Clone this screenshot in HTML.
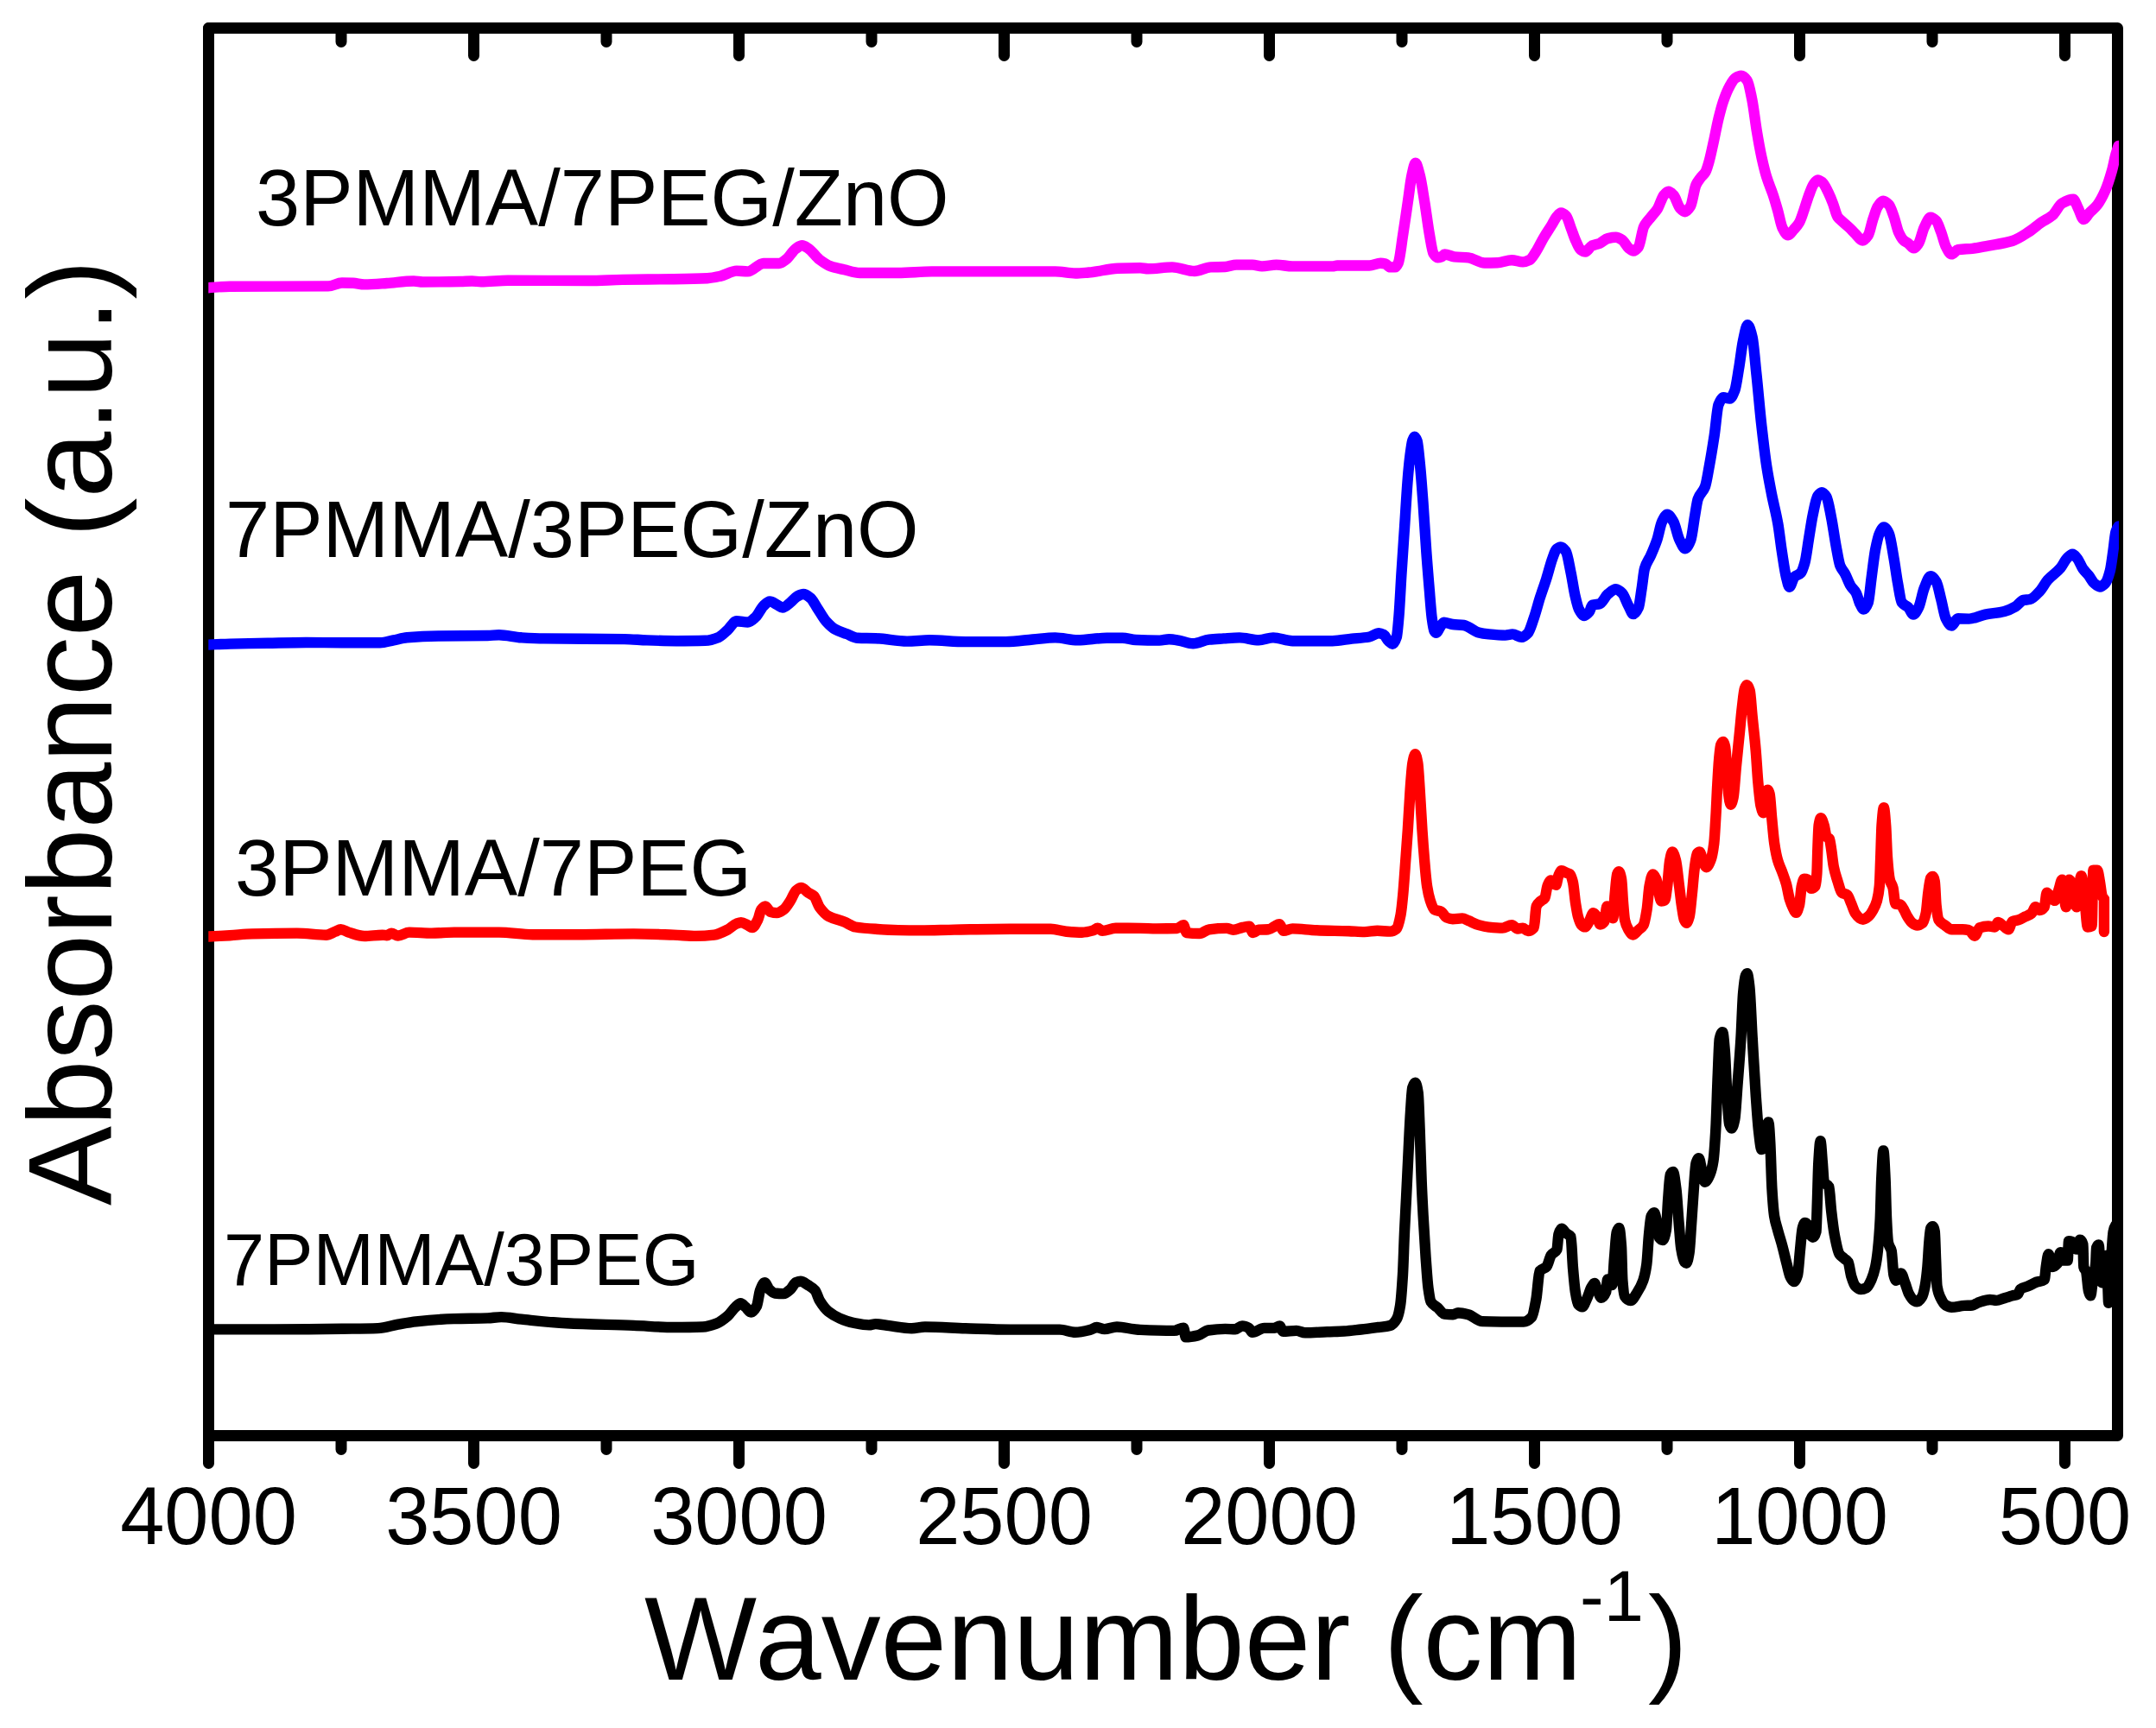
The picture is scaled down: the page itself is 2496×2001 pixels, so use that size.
<!DOCTYPE html>
<html><head><meta charset="utf-8"><title>FTIR spectra</title>
<style>
html,body{margin:0;padding:0;background:#fff}
body{width:2496px;height:2001px;overflow:hidden}
svg{display:block}
text{font-family:"Liberation Sans",Arial,Helvetica,sans-serif;fill:#000}
.c{fill:none;stroke-width:12.4;stroke-linejoin:round;stroke-linecap:round}
</style></head><body>
<svg width="2496" height="2001" viewBox="0 0 2496 2001">
<rect width="2496" height="2001" fill="#fff"/>
<defs><clipPath id="cp"><rect x="241.3" y="0" width="2211.7" height="2001"/></clipPath></defs>
<rect x="241.5" y="32.5" width="2210" height="1630" fill="none" stroke="#000" stroke-width="13" stroke-linejoin="round"/>
<path d="M241.5 32.5v32M241.5 1662.5v32M395.0 32.5v16M395.0 1662.5v16M548.5 32.5v32M548.5 1662.5v32M702.0 32.5v16M702.0 1662.5v16M855.5 32.5v32M855.5 1662.5v32M1009.0 32.5v16M1009.0 1662.5v16M1162.5 32.5v32M1162.5 1662.5v32M1316.0 32.5v16M1316.0 1662.5v16M1469.5 32.5v32M1469.5 1662.5v32M1623.0 32.5v16M1623.0 1662.5v16M1776.5 32.5v32M1776.5 1662.5v32M1930.0 32.5v16M1930.0 1662.5v16M2083.5 32.5v32M2083.5 1662.5v32M2237.0 32.5v16M2237.0 1662.5v16M2390.5 32.5v32M2390.5 1662.5v32" stroke="#000" stroke-width="13" stroke-linecap="round" fill="none"/>
<text transform="translate(241.5,1788) scale(1,1.035)" font-size="92" text-anchor="middle">4000</text>
<text transform="translate(548.5,1788) scale(1,1.035)" font-size="92" text-anchor="middle">3500</text>
<text transform="translate(855.5,1788) scale(1,1.035)" font-size="92" text-anchor="middle">3000</text>
<text transform="translate(1162.5,1788) scale(1,1.035)" font-size="92" text-anchor="middle">2500</text>
<text transform="translate(1469.5,1788) scale(1,1.035)" font-size="92" text-anchor="middle">2000</text>
<text transform="translate(1776.5,1788) scale(1,1.035)" font-size="92" text-anchor="middle">1500</text>
<text transform="translate(2083.5,1788) scale(1,1.035)" font-size="92" text-anchor="middle">1000</text>
<text transform="translate(2390.5,1788) scale(1,1.035)" font-size="92" text-anchor="middle">500</text>
<g clip-path="url(#cp)">
<path class="c" stroke="#000" d="M241.3 1539.4C266.9 1539.4 292.4 1539.4 318.0 1539.4C343.9 1539.4 369.9 1539.1 395.8 1538.8C409.7 1538.6 423.5 1538.6 437.4 1538.1C445.2 1537.8 453.0 1535.0 460.8 1533.6C467.7 1532.4 474.7 1531.0 481.6 1530.3C496.3 1528.8 511.0 1527.5 525.7 1527.1C538.7 1526.7 551.7 1526.8 564.7 1526.4C569.9 1526.2 575.1 1525.1 580.3 1525.1C588.1 1525.1 595.8 1526.9 603.6 1527.7C620.9 1529.4 638.3 1531.4 655.6 1532.3C681.6 1533.6 707.5 1533.9 733.5 1534.9C749.0 1535.5 764.5 1537.0 780.0 1537.0C791.3 1537.0 802.5 1536.9 813.8 1536.5C819.0 1536.3 824.2 1534.5 829.4 1532.6C833.7 1531.0 838.0 1527.7 842.3 1524.0C845.3 1521.4 848.4 1516.3 851.4 1513.6C853.4 1511.8 855.4 1509.2 857.4 1509.2C859.3 1509.2 861.2 1512.0 863.1 1513.6C865.3 1515.4 867.4 1519.6 869.6 1519.6C871.8 1519.6 873.9 1516.4 876.1 1512.3C877.4 1509.8 878.7 1497.6 880.0 1494.2C881.7 1489.7 883.5 1485.1 885.2 1485.1C886.9 1485.1 888.7 1491.2 890.4 1492.9C892.6 1495.0 894.7 1497.3 896.9 1497.5C900.4 1497.9 903.8 1498.1 907.3 1498.1C909.9 1498.1 912.5 1495.1 915.1 1492.9C917.3 1491.0 919.4 1486.0 921.6 1485.1C923.3 1484.4 925.1 1483.8 926.8 1483.8C929.8 1483.8 932.8 1486.6 935.8 1488.4C938.4 1490.0 941.0 1491.2 943.6 1494.2C945.3 1496.2 947.1 1502.9 948.8 1505.8C952.3 1511.5 955.7 1516.0 959.2 1518.8C963.5 1522.4 967.9 1524.7 972.2 1526.6C977.4 1528.8 982.6 1530.7 987.8 1531.8C993.9 1533.0 999.9 1534.4 1006.0 1534.4C1008.6 1534.4 1011.2 1533.1 1013.8 1533.1C1019.0 1533.1 1024.2 1534.5 1029.4 1535.2C1038.0 1536.3 1046.7 1538.3 1055.3 1538.3C1060.5 1538.3 1065.7 1536.5 1070.9 1536.5C1086.5 1536.5 1102.1 1537.8 1117.7 1538.3C1135.0 1538.8 1152.3 1539.6 1169.6 1539.6C1188.7 1539.6 1207.7 1539.6 1226.8 1539.6C1232.8 1539.6 1238.9 1542.7 1244.9 1542.7C1251.0 1542.7 1257.0 1541.1 1263.1 1539.6C1265.3 1539.0 1267.4 1537.0 1269.6 1537.0C1272.6 1537.0 1275.7 1539.1 1278.7 1539.1C1283.5 1539.1 1288.2 1536.5 1293.0 1536.5C1299.5 1536.5 1306.0 1538.3 1312.5 1539.1C1315.0 1539.4 1317.5 1539.8 1320.0 1539.9C1333.1 1540.5 1346.3 1540.9 1359.4 1540.9C1363.0 1540.9 1366.6 1537.6 1370.2 1537.6C1371.0 1537.6 1371.9 1548.4 1372.7 1548.4C1377.4 1548.4 1382.2 1547.5 1386.9 1546.4C1390.8 1545.5 1394.8 1541.1 1398.7 1540.5C1405.3 1539.5 1411.8 1538.9 1418.4 1538.9C1422.3 1538.9 1426.3 1539.3 1430.2 1539.3C1432.8 1539.3 1435.5 1535.4 1438.1 1535.4C1440.7 1535.4 1443.3 1536.5 1445.9 1537.9C1447.2 1538.6 1448.6 1542.9 1449.9 1542.9C1454.5 1542.9 1459.0 1537.9 1463.6 1537.9C1467.5 1537.9 1471.5 1537.9 1475.4 1537.9C1477.5 1537.9 1479.6 1535.4 1481.7 1535.4C1482.9 1535.4 1484.1 1541.9 1485.3 1541.9C1490.5 1541.9 1495.8 1540.9 1501.0 1540.9C1504.3 1540.9 1507.6 1543.3 1510.9 1543.3C1519.4 1543.3 1528.0 1542.6 1536.5 1542.3C1543.0 1542.0 1549.6 1541.9 1556.1 1541.5C1562.7 1541.1 1569.2 1540.2 1575.8 1539.5C1582.4 1538.8 1588.9 1537.9 1595.5 1537.0C1600.1 1536.4 1604.7 1536.3 1609.3 1535.0C1611.9 1534.3 1614.5 1531.6 1617.1 1527.1C1618.4 1524.8 1619.8 1519.5 1621.1 1511.4C1622.1 1505.5 1623.0 1492.1 1624.0 1476.0C1624.7 1464.9 1625.3 1441.4 1626.0 1426.8C1626.7 1412.2 1627.3 1400.9 1628.0 1387.4C1628.6 1374.6 1629.3 1360.9 1629.9 1348.1C1630.9 1327.9 1631.9 1304.4 1632.9 1289.0C1633.7 1277.2 1634.4 1262.1 1635.2 1259.5C1636.3 1255.9 1637.3 1253.6 1638.4 1253.6C1639.5 1253.6 1640.6 1258.2 1641.7 1265.4C1642.4 1269.7 1643.0 1292.1 1643.7 1308.7C1644.4 1325.3 1645.0 1351.5 1645.7 1367.7C1646.3 1383.1 1647.0 1395.4 1647.6 1407.1C1648.6 1425.6 1649.6 1442.3 1650.6 1456.3C1651.6 1469.8 1652.5 1484.6 1653.5 1491.7C1654.5 1499.0 1655.5 1505.7 1656.5 1507.4C1659.1 1511.8 1661.8 1511.9 1664.4 1514.3C1667.0 1516.6 1669.6 1521.3 1672.2 1521.6C1675.5 1522.0 1678.8 1522.2 1682.1 1522.2C1684.1 1522.2 1686.0 1520.2 1688.0 1520.2C1691.9 1520.2 1695.9 1521.2 1699.8 1522.2C1705.2 1523.5 1710.6 1530.0 1716.0 1530.1C1732.0 1530.5 1747.9 1530.6 1763.9 1530.6C1767.0 1530.6 1770.1 1528.6 1773.2 1525.3C1775.0 1523.4 1776.7 1513.6 1778.5 1504.0C1779.8 1496.8 1781.2 1473.8 1782.5 1472.0C1785.2 1468.4 1787.8 1469.6 1790.5 1466.7C1792.3 1464.8 1794.0 1455.9 1795.8 1453.4C1798.0 1450.2 1800.3 1451.5 1802.5 1446.8C1803.1 1445.5 1803.8 1431.6 1804.4 1429.4C1805.5 1425.5 1806.7 1422.8 1807.8 1422.8C1809.6 1422.8 1811.3 1426.6 1813.1 1428.1C1814.9 1429.6 1816.7 1429.3 1818.5 1432.1C1819.4 1433.5 1820.2 1459.3 1821.1 1469.4C1822.0 1479.9 1822.9 1490.5 1823.8 1496.0C1824.9 1502.9 1826.1 1509.4 1827.2 1510.6C1828.7 1512.2 1830.3 1513.3 1831.8 1513.3C1833.6 1513.3 1835.3 1507.6 1837.1 1504.0C1838.9 1500.4 1840.6 1493.8 1842.4 1490.7C1843.6 1488.7 1844.7 1485.9 1845.9 1485.9C1847.0 1485.9 1848.0 1491.0 1849.1 1493.3C1850.7 1496.7 1852.3 1502.7 1853.9 1502.7C1855.7 1502.7 1857.4 1500.3 1859.2 1496.0C1859.8 1494.4 1860.5 1481.4 1861.1 1481.4C1862.9 1481.4 1864.6 1488.0 1866.4 1488.0C1867.3 1488.0 1868.1 1466.1 1869.0 1456.1C1869.9 1445.7 1870.8 1429.5 1871.7 1426.8C1872.6 1424.1 1873.5 1422.0 1874.4 1422.0C1875.3 1422.0 1876.1 1431.3 1877.0 1442.8C1877.5 1449.0 1877.9 1477.0 1878.4 1482.7C1879.3 1493.2 1880.1 1500.0 1881.0 1501.3C1883.2 1504.6 1885.5 1506.1 1887.7 1506.1C1890.4 1506.1 1893.0 1500.2 1895.7 1496.0C1897.9 1492.6 1900.1 1489.1 1902.3 1482.7C1903.6 1478.8 1905.0 1473.5 1906.3 1464.1C1907.2 1457.8 1908.1 1438.4 1909.0 1429.4C1909.9 1420.8 1910.7 1410.0 1911.6 1408.2C1912.8 1405.8 1913.9 1404.2 1915.1 1404.2C1916.2 1404.2 1917.2 1411.0 1918.3 1416.1C1919.2 1420.4 1920.1 1432.2 1921.0 1433.4C1922.3 1435.1 1923.6 1436.1 1924.9 1436.1C1926.2 1436.1 1927.6 1431.3 1928.9 1424.1C1929.6 1420.1 1930.4 1399.2 1931.1 1389.5C1932.0 1378.1 1932.8 1361.8 1933.7 1360.2C1934.8 1358.2 1935.8 1357.0 1936.9 1357.0C1938.1 1357.0 1939.2 1367.3 1940.4 1376.2C1941.5 1384.4 1942.5 1403.5 1943.6 1416.1C1944.5 1426.3 1945.3 1440.1 1946.2 1445.4C1947.5 1453.5 1948.9 1460.1 1950.2 1461.4C1950.9 1462.1 1951.7 1462.7 1952.4 1462.7C1953.5 1462.7 1954.5 1457.1 1955.6 1450.7C1956.5 1445.5 1957.3 1428.2 1958.2 1416.1C1959.1 1403.5 1960.0 1387.7 1960.9 1376.2C1961.8 1365.1 1962.6 1349.7 1963.5 1346.9C1964.6 1343.5 1965.6 1341.1 1966.7 1341.1C1967.9 1341.1 1969.0 1350.3 1970.2 1354.9C1971.4 1359.5 1972.5 1368.8 1973.7 1368.8C1975.6 1368.8 1977.6 1364.5 1979.5 1360.2C1980.8 1357.2 1982.2 1352.7 1983.5 1344.3C1984.4 1338.6 1985.3 1325.1 1986.2 1309.7C1987.1 1294.9 1987.9 1263.0 1988.8 1243.1C1989.4 1228.6 1990.1 1206.0 1990.7 1203.2C1991.9 1198.0 1993.0 1195.2 1994.2 1195.2C1995.1 1195.2 1995.9 1206.5 1996.8 1216.5C1997.7 1226.9 1998.6 1256.1 1999.5 1269.7C2000.4 1282.8 2001.2 1299.0 2002.1 1301.7C2003.0 1304.5 2003.9 1306.5 2004.8 1306.5C2006.0 1306.5 2007.1 1301.9 2008.3 1296.3C2009.4 1291.2 2010.4 1270.3 2011.5 1256.4C2012.8 1239.5 2014.1 1224.4 2015.4 1203.2C2016.3 1188.5 2017.2 1159.6 2018.1 1149.9C2019.0 1140.2 2019.9 1132.1 2020.8 1130.0C2021.4 1128.6 2022.0 1127.3 2022.6 1127.3C2023.5 1127.3 2024.4 1134.6 2025.3 1141.9C2026.5 1151.3 2027.6 1183.3 2028.8 1203.2C2030.1 1226.0 2031.5 1250.8 2032.8 1269.7C2033.9 1284.8 2034.9 1300.8 2036.0 1309.7C2037.1 1319.2 2038.3 1331.0 2039.4 1331.0C2040.6 1331.0 2041.7 1330.1 2042.9 1328.3C2043.7 1327.1 2044.5 1307.2 2045.3 1304.3C2046.0 1301.7 2046.7 1299.5 2047.4 1299.5C2048.0 1299.5 2048.7 1312.5 2049.3 1323.0C2050.0 1334.6 2050.7 1364.7 2051.4 1376.2C2052.3 1391.0 2053.2 1402.6 2054.1 1408.2C2055.4 1416.3 2056.7 1419.2 2058.0 1424.1C2059.8 1430.9 2061.6 1436.1 2063.4 1442.8C2065.2 1449.4 2066.9 1457.4 2068.7 1464.1C2070.0 1469.2 2071.4 1476.2 2072.7 1478.7C2074.1 1481.3 2075.5 1484.0 2076.9 1484.0C2078.3 1484.0 2079.7 1480.8 2081.1 1476.3C2082.0 1473.3 2083.0 1457.4 2083.9 1448.4C2084.8 1439.4 2085.8 1425.8 2086.7 1422.4C2087.6 1419.0 2088.6 1416.0 2089.5 1416.0C2090.7 1416.0 2092.0 1417.1 2093.2 1418.7C2094.1 1419.9 2095.1 1428.4 2096.0 1429.9C2096.9 1431.4 2097.9 1432.7 2098.8 1432.7C2100.0 1432.7 2101.3 1430.9 2102.5 1426.2C2102.9 1424.5 2103.4 1404.9 2103.8 1392.8C2104.3 1378.8 2104.8 1355.0 2105.3 1346.4C2106.0 1333.8 2106.8 1321.3 2107.5 1321.3C2108.3 1321.3 2109.1 1337.3 2109.9 1346.4C2110.5 1353.2 2111.1 1367.3 2111.7 1368.6C2113.6 1372.6 2115.4 1370.5 2117.3 1374.2C2118.2 1376.1 2119.2 1393.9 2120.1 1402.0C2121.3 1412.6 2122.6 1423.4 2123.8 1429.9C2125.7 1439.8 2127.5 1449.3 2129.4 1452.1C2131.2 1454.9 2133.1 1455.6 2134.9 1457.3C2136.5 1458.7 2138.0 1459.0 2139.6 1461.4C2140.8 1463.3 2142.1 1474.2 2143.3 1478.1C2144.8 1483.0 2146.4 1487.7 2147.9 1489.2C2150.1 1491.3 2152.2 1493.0 2154.4 1493.0C2156.6 1493.0 2158.7 1492.2 2160.9 1491.1C2162.8 1490.2 2164.6 1485.9 2166.5 1481.8C2168.0 1478.4 2169.6 1473.8 2171.1 1467.0C2172.0 1462.8 2173.0 1456.7 2173.9 1448.4C2174.8 1440.1 2175.8 1429.3 2176.7 1411.3C2177.2 1401.6 2177.7 1375.1 2178.2 1364.9C2178.9 1349.9 2179.7 1332.5 2180.4 1332.5C2181.1 1332.5 2181.9 1349.9 2182.6 1364.9C2183.1 1375.1 2183.6 1401.2 2184.1 1411.3C2184.7 1424.1 2185.4 1436.2 2186.0 1439.1C2187.2 1444.8 2188.5 1443.2 2189.7 1448.4C2190.6 1452.2 2191.5 1472.9 2192.4 1476.3C2193.3 1479.8 2194.3 1482.7 2195.2 1482.7C2197.1 1482.7 2198.9 1474.4 2200.8 1474.4C2202.3 1474.4 2203.9 1481.5 2205.4 1485.5C2207.0 1489.5 2208.5 1495.6 2210.1 1498.5C2211.9 1501.8 2213.8 1504.8 2215.6 1505.9C2216.9 1506.6 2218.1 1507.4 2219.4 1507.4C2221.2 1507.4 2223.1 1505.0 2224.9 1502.2C2226.1 1500.3 2227.4 1495.3 2228.6 1489.2C2229.5 1484.6 2230.5 1476.8 2231.4 1467.0C2232.0 1460.4 2232.7 1446.3 2233.3 1439.1C2233.9 1432.3 2234.5 1423.4 2235.1 1422.4C2235.9 1421.0 2236.7 1420.2 2237.5 1420.2C2238.3 1420.2 2239.0 1422.3 2239.8 1426.2C2240.2 1428.4 2240.7 1447.6 2241.1 1457.7C2241.6 1468.6 2242.0 1486.1 2242.5 1489.2C2243.8 1497.7 2245.0 1499.5 2246.3 1502.2C2248.4 1506.7 2250.6 1510.3 2252.7 1511.5C2254.9 1512.7 2257.0 1513.7 2259.2 1513.7C2264.2 1513.7 2269.1 1512.2 2274.1 1511.9C2277.2 1511.7 2280.3 1511.8 2283.4 1511.5C2285.9 1511.3 2288.3 1509.0 2290.8 1508.2C2295.1 1506.8 2299.5 1505.0 2303.8 1505.0C2306.3 1505.0 2308.7 1505.9 2311.2 1505.9C2314.3 1505.9 2317.4 1504.1 2320.5 1503.2C2323.6 1502.3 2326.6 1501.3 2329.7 1500.4C2331.9 1499.8 2334.0 1499.7 2336.2 1498.5C2337.1 1498.0 2338.1 1493.6 2339.0 1492.9C2342.1 1490.6 2345.2 1490.6 2348.3 1489.2C2351.4 1487.8 2354.5 1485.8 2357.6 1484.6C2360.7 1483.4 2363.7 1484.1 2366.8 1481.8C2367.4 1481.3 2368.1 1471.1 2368.7 1467.0C2369.6 1461.0 2370.6 1452.1 2371.5 1452.1C2373.0 1452.1 2374.6 1467.0 2376.1 1467.0C2378.0 1467.0 2379.8 1465.5 2381.7 1463.3C2382.9 1461.9 2384.2 1450.3 2385.4 1450.3C2386.6 1450.3 2387.9 1459.6 2389.1 1459.6C2390.6 1459.6 2392.2 1459.6 2393.7 1459.6C2394.1 1459.6 2394.6 1437.3 2395.0 1437.3C2396.4 1437.3 2397.9 1437.7 2399.3 1438.2C2400.8 1438.8 2402.4 1446.6 2403.9 1446.6C2405.3 1446.6 2406.6 1435.8 2408.0 1435.8C2409.1 1435.8 2410.3 1437.0 2411.4 1441.0C2411.7 1442.1 2412.0 1465.7 2412.3 1467.0C2413.2 1471.0 2414.2 1469.6 2415.1 1472.5C2416.0 1475.4 2417.0 1491.5 2417.9 1494.8C2418.7 1497.6 2419.5 1500.4 2420.3 1500.4C2421.0 1500.4 2421.8 1490.2 2422.5 1485.5C2423.7 1477.6 2425.0 1476.2 2426.2 1463.3C2426.5 1460.2 2426.8 1445.6 2427.1 1444.7C2427.9 1442.3 2428.8 1441.4 2429.6 1441.4C2430.0 1441.4 2430.5 1449.9 2430.9 1457.7C2431.2 1463.1 2431.5 1483.3 2431.8 1483.7C2432.9 1485.1 2434.0 1485.5 2435.1 1485.5C2435.5 1485.5 2436.0 1459.3 2436.4 1457.7C2437.0 1455.3 2437.7 1454.0 2438.3 1454.0C2438.9 1454.0 2439.5 1473.4 2440.1 1485.5C2440.4 1492.2 2440.8 1508.7 2441.1 1508.7C2441.7 1508.7 2442.3 1494.8 2442.9 1485.5C2443.5 1475.7 2444.2 1458.0 2444.8 1448.4C2445.4 1439.3 2446.0 1429.0 2446.6 1426.2C2447.5 1421.9 2448.5 1420.1 2449.4 1418.7C2450.6 1416.9 2451.8 1416.2 2453.0 1415.0"/>
<path class="c" stroke="#f00" d="M241.3 1084.5C249.5 1084.1 257.8 1083.7 266.0 1083.2C274.7 1082.7 283.3 1081.6 292.0 1081.4C309.3 1080.9 326.6 1080.6 343.9 1080.6C355.2 1080.6 366.4 1082.7 377.7 1082.7C381.1 1082.7 384.6 1080.1 388.0 1078.8C390.2 1078.0 392.3 1076.2 394.5 1076.2C397.5 1076.2 400.6 1078.7 403.6 1079.6C409.7 1081.4 415.7 1084.0 421.8 1084.0C428.7 1084.0 435.7 1082.7 442.6 1082.7C444.3 1082.7 446.1 1083.2 447.8 1083.2C449.5 1083.2 451.3 1080.6 453.0 1080.6C455.6 1080.6 458.2 1083.5 460.8 1083.5C465.1 1083.5 469.5 1079.6 473.8 1079.6C482.4 1079.6 491.1 1080.6 499.7 1080.6C508.4 1080.6 517.0 1079.6 525.7 1079.6C543.0 1079.6 560.4 1079.6 577.7 1079.6C590.7 1079.6 603.6 1082.2 616.6 1082.2C633.9 1082.2 651.3 1082.2 668.6 1082.2C690.2 1082.2 711.9 1081.4 733.5 1081.4C749.0 1081.4 764.5 1082.1 780.0 1082.6C788.7 1082.9 797.3 1083.9 806.0 1083.9C812.9 1083.9 819.9 1083.4 826.8 1082.6C832.0 1082.0 837.1 1079.2 842.3 1076.6C845.8 1074.9 849.2 1070.8 852.7 1069.6C854.4 1069.0 856.2 1068.3 857.9 1068.3C860.5 1068.3 863.1 1070.2 865.7 1071.4C867.4 1072.2 869.2 1074.0 870.9 1074.0C873.1 1074.0 875.2 1069.2 877.4 1064.9C878.7 1062.3 880.0 1054.9 881.3 1053.2C882.9 1051.2 884.4 1049.4 886.0 1049.4C887.9 1049.4 889.8 1055.2 891.7 1055.8C894.3 1056.6 896.9 1057.1 899.5 1057.1C902.1 1057.1 904.7 1055.1 907.3 1053.2C909.9 1051.3 912.5 1046.9 915.1 1042.9C917.3 1039.6 919.4 1033.0 921.6 1031.2C923.6 1029.6 925.5 1028.0 927.5 1028.0C930.3 1028.0 933.0 1032.0 935.8 1033.8C938.0 1035.2 940.1 1035.7 942.3 1037.7C944.5 1039.7 946.6 1047.6 948.8 1050.6C952.3 1055.3 955.7 1059.1 959.2 1061.0C965.3 1064.3 971.3 1065.0 977.4 1067.5C981.7 1069.3 986.1 1072.8 990.4 1073.5C998.2 1074.8 1006.0 1075.3 1013.8 1075.8C1022.4 1076.4 1031.1 1076.9 1039.7 1077.1C1048.4 1077.3 1057.0 1077.4 1065.7 1077.4C1078.7 1077.4 1091.7 1076.8 1104.7 1076.6C1126.3 1076.3 1148.0 1075.8 1169.6 1075.8C1185.2 1075.8 1200.8 1075.8 1216.4 1075.8C1222.4 1075.8 1228.5 1078.2 1234.5 1078.7C1240.6 1079.2 1246.6 1079.7 1252.7 1079.7C1257.0 1079.7 1261.4 1078.6 1265.7 1077.4C1267.4 1076.9 1269.2 1074.8 1270.9 1074.8C1272.6 1074.8 1274.4 1077.9 1276.1 1077.9C1281.3 1077.9 1286.5 1074.8 1291.7 1074.8C1301.1 1074.8 1310.6 1074.8 1320.0 1074.9C1326.2 1074.9 1332.4 1075.4 1338.6 1075.4C1346.6 1075.4 1354.7 1075.3 1362.7 1075.0C1365.2 1074.9 1367.6 1071.3 1370.1 1071.3C1371.3 1071.3 1372.6 1079.9 1373.8 1080.1C1378.7 1080.8 1383.7 1081.0 1388.6 1081.0C1392.3 1081.0 1396.1 1076.8 1399.8 1076.3C1406.6 1075.4 1413.4 1074.9 1420.2 1074.9C1422.7 1074.9 1425.1 1076.7 1427.6 1076.7C1431.3 1076.7 1435.0 1074.7 1438.7 1073.9C1441.2 1073.4 1443.7 1072.6 1446.2 1072.6C1447.7 1072.6 1449.3 1080.1 1450.8 1080.1C1453.0 1080.1 1455.1 1076.9 1457.3 1076.7C1461.0 1076.4 1464.7 1076.6 1468.4 1076.3C1470.9 1076.1 1473.3 1073.8 1475.8 1072.6C1477.5 1071.8 1479.3 1070.2 1481.0 1070.2C1482.7 1070.2 1484.3 1077.8 1486.0 1077.8C1489.4 1077.8 1492.9 1075.4 1496.3 1075.4C1505.6 1075.4 1514.8 1077.0 1524.1 1077.3C1536.5 1077.8 1548.8 1077.8 1561.2 1078.2C1567.4 1078.4 1573.5 1079.1 1579.7 1079.1C1584.7 1079.1 1589.6 1077.8 1594.6 1077.8C1599.5 1077.8 1604.5 1078.6 1609.4 1078.6C1611.9 1078.6 1614.4 1077.4 1616.9 1075.4C1618.4 1074.2 1620.0 1067.4 1621.5 1059.6C1622.4 1054.9 1623.4 1045.2 1624.3 1035.5C1625.2 1025.8 1626.2 1011.0 1627.1 998.4C1628.0 986.3 1628.9 974.8 1629.8 961.3C1630.7 947.3 1631.7 927.4 1632.6 914.9C1633.5 902.4 1634.5 888.3 1635.4 883.4C1636.4 878.1 1637.4 873.2 1638.4 873.2C1639.4 873.2 1640.3 877.9 1641.3 883.4C1642.1 887.9 1642.9 903.2 1643.7 914.9C1644.6 928.5 1645.6 947.6 1646.5 961.3C1647.4 975.0 1648.4 987.8 1649.3 998.4C1650.2 1009.0 1651.2 1020.4 1652.1 1026.3C1653.3 1034.1 1654.6 1039.2 1655.8 1042.9C1657.3 1047.5 1658.9 1052.3 1660.4 1053.2C1663.2 1054.9 1666.0 1054.4 1668.8 1055.9C1670.7 1056.9 1672.5 1061.6 1674.4 1062.4C1676.9 1063.5 1679.3 1064.3 1681.8 1064.3C1685.5 1064.3 1689.2 1063.4 1692.9 1063.4C1695.3 1063.4 1697.6 1065.2 1700.0 1066.1C1703.9 1067.7 1707.9 1070.0 1711.8 1071.1C1715.7 1072.2 1719.7 1073.2 1723.6 1073.6C1728.9 1074.1 1734.1 1074.6 1739.4 1074.6C1743.0 1074.6 1746.6 1071.1 1750.2 1071.1C1752.5 1071.1 1754.8 1075.6 1757.1 1075.6C1759.1 1075.6 1761.0 1074.6 1763.0 1074.6C1765.0 1074.6 1766.9 1078.0 1768.9 1078.0C1771.2 1078.0 1773.5 1076.8 1775.8 1074.0C1776.8 1072.8 1777.7 1051.6 1778.7 1049.4C1780.3 1045.7 1782.0 1045.1 1783.6 1043.5C1785.2 1041.9 1786.9 1041.9 1788.5 1039.6C1789.5 1038.2 1790.5 1028.2 1791.5 1025.8C1792.8 1022.6 1794.1 1019.5 1795.4 1019.5C1797.4 1019.5 1799.3 1024.8 1801.3 1024.8C1802.3 1024.8 1803.3 1016.3 1804.3 1014.0C1805.5 1011.3 1806.6 1008.1 1807.8 1008.1C1809.6 1008.1 1811.3 1009.7 1813.1 1010.5C1814.6 1011.2 1816.2 1011.2 1817.7 1012.4C1818.8 1013.2 1819.9 1017.2 1821.0 1021.9C1822.0 1026.1 1823.0 1039.1 1824.0 1045.5C1825.0 1051.7 1825.9 1057.8 1826.9 1061.2C1828.2 1065.8 1829.6 1069.8 1830.9 1071.1C1832.2 1072.3 1833.5 1073.4 1834.8 1073.4C1836.4 1073.4 1838.1 1069.7 1839.7 1067.1C1841.3 1064.5 1843.0 1057.3 1844.6 1057.3C1845.9 1057.3 1847.3 1059.4 1848.6 1061.2C1849.9 1063.0 1851.2 1070.5 1852.5 1070.5C1854.1 1070.5 1855.8 1069.3 1857.4 1067.1C1858.4 1065.8 1859.4 1049.4 1860.4 1049.4C1861.7 1049.4 1863.0 1049.7 1864.3 1050.4C1865.3 1050.9 1866.3 1063.2 1867.3 1063.2C1868.1 1063.2 1868.8 1043.5 1869.6 1035.6C1870.5 1026.6 1871.3 1014.2 1872.2 1012.0C1872.8 1010.4 1873.5 1009.1 1874.1 1009.1C1875.1 1009.1 1876.1 1012.8 1877.1 1017.9C1877.8 1021.3 1878.4 1037.6 1879.1 1045.5C1879.7 1053.0 1880.4 1062.3 1881.0 1065.2C1882.3 1071.3 1883.7 1073.8 1885.0 1076.0C1886.8 1079.1 1888.7 1082.5 1890.5 1082.5C1892.6 1082.5 1894.7 1079.0 1896.8 1077.0C1898.8 1075.2 1900.7 1074.5 1902.7 1071.1C1904.0 1068.9 1905.3 1061.3 1906.6 1053.3C1907.6 1047.1 1908.6 1030.9 1909.6 1025.8C1910.9 1019.2 1912.2 1012.4 1913.5 1012.4C1914.8 1012.4 1916.1 1014.9 1917.4 1017.9C1918.4 1020.2 1919.4 1029.6 1920.4 1033.7C1921.4 1037.7 1922.3 1043.5 1923.3 1043.5C1924.6 1043.5 1926.0 1043.2 1927.3 1042.5C1928.3 1042.0 1929.2 1032.8 1930.2 1025.8C1931.2 1018.5 1932.2 1001.3 1933.2 996.3C1934.2 991.5 1935.1 986.5 1936.1 986.5C1937.4 986.5 1938.8 991.4 1940.1 996.3C1941.4 1001.1 1942.7 1015.8 1944.0 1025.8C1945.0 1033.5 1946.0 1043.0 1947.0 1049.4C1948.0 1055.6 1948.9 1063.0 1949.9 1065.2C1950.7 1067.0 1951.5 1068.7 1952.3 1068.7C1953.5 1068.7 1954.6 1065.3 1955.8 1061.2C1956.8 1057.7 1957.8 1044.9 1958.8 1035.6C1959.8 1026.6 1960.7 1013.3 1961.7 1006.1C1962.7 998.6 1963.7 989.6 1964.7 988.4C1965.7 987.3 1966.6 986.5 1967.6 986.5C1969.2 986.5 1970.9 997.3 1972.5 1000.2C1973.5 1002.0 1974.5 1004.2 1975.5 1004.2C1977.1 1004.2 1978.8 1000.4 1980.4 996.3C1981.7 993.1 1983.0 986.9 1984.3 976.6C1985.0 971.3 1985.6 958.3 1986.3 947.1C1987.0 935.9 1987.6 919.3 1988.3 907.7C1988.9 896.7 1989.6 884.8 1990.2 878.2C1990.9 871.2 1991.5 864.1 1992.2 862.5C1993.1 860.4 1993.9 858.9 1994.8 858.9C1995.6 858.9 1996.3 861.4 1997.1 864.5C1997.8 867.2 1998.4 879.1 1999.1 888.1C1999.8 897.1 2000.4 914.4 2001.1 919.5C2001.9 925.8 2002.8 931.7 2003.6 931.7C2004.6 931.7 2005.6 927.8 2006.6 923.5C2007.7 918.8 2008.8 899.4 2009.9 888.1C2011.2 874.4 2012.6 862.1 2013.9 848.7C2014.9 839.0 2015.8 827.4 2016.8 819.2C2017.8 810.7 2018.8 800.2 2019.8 797.5C2020.6 795.2 2021.5 793.2 2022.3 793.2C2023.4 793.2 2024.6 795.9 2025.7 799.5C2026.7 802.6 2027.6 819.3 2028.6 829.0C2029.9 842.4 2031.3 853.1 2032.6 868.4C2033.6 879.5 2034.5 897.6 2035.5 907.7C2036.5 918.2 2037.5 929.2 2038.5 933.3C2039.5 937.3 2040.4 941.2 2041.4 941.2C2042.3 941.2 2043.1 932.1 2044.0 927.4C2044.8 923.2 2045.5 914.6 2046.3 914.6C2047.1 914.6 2047.9 916.8 2048.7 919.5C2049.5 922.4 2050.4 938.4 2051.2 947.1C2052.2 957.5 2053.2 969.8 2054.2 976.6C2055.5 985.4 2056.8 991.8 2058.1 996.3C2059.7 1002.0 2061.4 1004.6 2063.0 1009.1C2064.7 1013.7 2066.3 1017.8 2068.0 1023.8C2069.3 1028.5 2070.6 1037.3 2071.9 1041.5C2073.2 1045.7 2074.5 1048.8 2075.8 1051.4C2076.9 1053.6 2078.1 1056.9 2079.2 1056.9C2080.5 1056.9 2081.7 1052.9 2083.0 1048.4C2083.9 1045.0 2084.9 1030.3 2085.8 1026.2C2086.7 1022.1 2087.7 1017.8 2088.6 1017.8C2090.1 1017.8 2091.7 1018.1 2093.2 1018.7C2094.4 1019.2 2095.7 1028.9 2096.9 1028.9C2098.4 1028.9 2100.0 1028.1 2101.5 1026.2C2102.1 1025.4 2102.8 1019.8 2103.4 1011.3C2103.7 1007.3 2104.0 991.2 2104.3 983.5C2104.7 972.4 2105.2 958.5 2105.6 955.7C2106.4 950.5 2107.2 947.3 2108.0 947.3C2109.2 947.3 2110.5 951.9 2111.7 955.7C2112.6 958.6 2113.6 967.3 2114.5 968.6C2115.6 970.2 2116.8 969.7 2117.9 971.4C2118.6 972.5 2119.4 978.9 2120.1 983.5C2121.0 989.3 2122.0 999.3 2122.9 1003.9C2124.4 1011.5 2126.0 1015.8 2127.5 1020.6C2129.1 1025.5 2130.6 1032.4 2132.2 1033.6C2134.3 1035.3 2136.5 1034.8 2138.6 1036.4C2140.2 1037.6 2141.7 1043.0 2143.3 1046.6C2144.8 1050.1 2146.4 1055.4 2147.9 1057.7C2149.5 1060.1 2151.0 1061.9 2152.6 1062.9C2154.0 1063.8 2155.4 1064.7 2156.8 1064.7C2158.8 1064.7 2160.8 1063.0 2162.8 1061.4C2164.6 1060.0 2166.5 1057.2 2168.3 1054.0C2169.9 1051.3 2171.4 1048.4 2173.0 1042.9C2173.9 1039.6 2174.9 1035.7 2175.8 1026.2C2176.3 1021.4 2176.7 1004.9 2177.2 992.8C2177.6 981.5 2178.1 961.7 2178.5 955.7C2179.3 944.6 2180.1 935.3 2180.9 935.3C2181.7 935.3 2182.4 946.0 2183.2 955.7C2183.8 963.3 2184.4 984.9 2185.0 992.8C2185.9 1005.1 2186.9 1014.9 2187.8 1018.7C2189.0 1023.7 2190.3 1023.4 2191.5 1028.0C2192.4 1031.5 2193.4 1046.3 2194.3 1046.6C2196.2 1047.3 2198.0 1046.9 2199.9 1047.5C2201.4 1048.0 2203.0 1051.4 2204.5 1054.0C2205.7 1056.1 2207.0 1059.4 2208.2 1061.4C2210.1 1064.4 2211.9 1067.4 2213.8 1068.8C2215.7 1070.2 2217.5 1071.6 2219.4 1071.6C2221.5 1071.6 2223.7 1070.5 2225.8 1068.8C2227.1 1067.8 2228.3 1063.4 2229.6 1057.7C2230.5 1053.6 2231.4 1040.0 2232.3 1033.6C2233.2 1026.9 2234.2 1018.2 2235.1 1016.9C2235.9 1015.8 2236.7 1015.0 2237.5 1015.0C2238.3 1015.0 2239.0 1017.3 2239.8 1020.6C2240.4 1023.2 2241.0 1043.1 2241.6 1048.4C2242.5 1056.7 2243.5 1063.5 2244.4 1065.1C2246.9 1069.4 2249.3 1069.8 2251.8 1071.6C2254.3 1073.4 2256.7 1076.3 2259.2 1076.3C2263.5 1076.3 2267.9 1076.3 2272.2 1076.3C2274.7 1076.3 2277.1 1076.7 2279.6 1077.2C2281.8 1077.7 2283.9 1083.7 2286.1 1083.7C2288.0 1083.7 2289.8 1075.1 2291.7 1074.4C2295.1 1073.2 2298.5 1072.5 2301.9 1072.5C2304.4 1072.5 2306.8 1073.5 2309.3 1073.5C2310.5 1073.5 2311.8 1067.9 2313.0 1067.9C2314.9 1067.9 2316.7 1070.3 2318.6 1071.6C2320.8 1073.1 2322.9 1076.3 2325.1 1076.3C2326.6 1076.3 2328.2 1067.7 2329.7 1067.0C2332.2 1065.8 2334.7 1065.9 2337.2 1065.1C2339.7 1064.3 2342.1 1062.6 2344.6 1061.4C2347.1 1060.2 2349.5 1059.7 2352.0 1057.7C2353.5 1056.5 2355.1 1050.3 2356.6 1050.3C2358.2 1050.3 2359.7 1054.0 2361.3 1054.0C2363.1 1054.0 2365.0 1052.7 2366.8 1050.3C2367.7 1049.1 2368.7 1033.6 2369.6 1033.6C2371.2 1033.6 2372.7 1037.6 2374.3 1039.1C2375.8 1040.6 2377.4 1042.9 2378.9 1042.9C2380.4 1042.9 2382.0 1034.3 2383.5 1029.9C2384.8 1026.2 2386.0 1018.7 2387.3 1018.7C2388.8 1018.7 2390.4 1050.3 2391.9 1050.3C2393.1 1050.3 2394.4 1018.7 2395.6 1018.7C2397.1 1018.7 2398.7 1024.6 2400.2 1029.9C2401.4 1034.1 2402.7 1050.3 2403.9 1050.3C2405.8 1050.3 2407.6 1014.1 2409.5 1014.1C2410.7 1014.1 2412.0 1029.4 2413.2 1039.1C2414.4 1048.8 2415.7 1073.5 2416.9 1073.5C2418.5 1073.5 2420.0 1073.3 2421.6 1072.5C2422.2 1072.2 2422.8 1007.6 2423.4 1007.6C2425.0 1007.6 2426.5 1007.6 2428.1 1007.6C2429.0 1007.6 2430.0 1015.6 2430.9 1020.6C2431.8 1025.4 2432.7 1035.0 2433.6 1037.3C2434.4 1039.2 2435.1 1041.0 2435.9 1041.0L2435.9 1079.0"/>
<path class="c" stroke="#00f" d="M241.3 746.6C249.5 746.3 257.8 745.8 266.0 745.6C280.7 745.2 295.3 745.1 310.0 744.8C324.8 744.5 339.5 744.0 354.3 744.0C368.1 744.0 382.0 744.3 395.8 744.3C410.5 744.3 425.3 744.3 440.0 744.3C445.2 744.3 450.4 742.4 455.6 741.4C460.8 740.4 466.0 738.7 471.2 738.3C483.3 737.3 495.4 736.7 507.5 736.5C526.6 736.2 545.6 736.3 564.7 736.0C569.0 735.9 573.4 735.2 577.7 735.2C586.3 735.2 595.0 737.8 603.6 738.3C612.3 738.8 620.9 739.3 629.6 739.4C660.7 739.9 691.9 739.6 723.0 740.1C731.7 740.2 740.3 741.1 749.0 741.4C760.3 741.8 771.6 742.2 782.9 742.2C794.1 742.2 805.2 742.1 816.4 741.8C821.6 741.7 826.8 740.0 832.0 737.9C835.4 736.5 838.9 732.7 842.3 729.6C845.8 726.5 849.2 719.2 852.7 719.2C857.0 719.2 861.4 720.5 865.7 720.5C868.7 720.5 871.8 717.2 874.8 714.5C877.8 711.8 880.9 704.4 883.9 701.6C886.3 699.3 888.8 696.4 891.2 696.4C894.0 696.4 896.7 698.9 899.5 700.3C901.7 701.4 903.8 703.6 906.0 703.6C909.0 703.6 912.1 700.0 915.1 697.7C917.7 695.7 920.3 691.9 922.9 690.6C925.3 689.4 927.7 688.0 930.1 688.0C932.9 688.0 935.6 690.3 938.4 692.5C941.0 694.6 943.6 700.3 946.2 704.2C949.7 709.4 953.1 715.9 956.6 719.7C960.1 723.5 963.5 726.9 967.0 728.8C971.3 731.2 975.7 732.4 980.0 734.0C984.3 735.6 988.7 738.5 993.0 738.7C999.9 739.0 1006.9 738.9 1013.8 739.2C1025.9 739.6 1038.0 742.6 1050.1 742.6C1058.8 742.6 1067.4 741.3 1076.1 741.3C1090.0 741.3 1103.8 743.1 1117.7 743.1C1133.3 743.1 1148.8 743.1 1164.4 743.1C1174.8 743.1 1185.2 741.4 1195.6 740.5C1204.3 739.8 1212.9 738.4 1221.6 738.4C1230.2 738.4 1238.9 741.3 1247.5 741.3C1258.8 741.3 1270.0 738.7 1281.3 738.7C1287.4 738.7 1293.4 738.7 1299.5 738.7C1304.7 738.7 1309.9 740.8 1315.1 741.0C1324.2 741.4 1333.2 741.6 1342.3 741.6C1346.0 741.6 1349.7 740.3 1353.4 740.3C1357.1 740.3 1360.8 741.0 1364.5 741.6C1370.1 742.4 1375.6 745.3 1381.2 745.3C1387.4 745.3 1393.6 741.4 1399.8 740.7C1405.4 740.0 1410.9 739.8 1416.5 739.4C1422.7 739.0 1428.8 738.4 1435.0 738.4C1442.4 738.4 1449.9 741.2 1457.3 741.2C1462.9 741.2 1468.4 738.4 1474.0 738.4C1481.4 738.4 1488.9 742.2 1496.3 742.2C1511.7 742.2 1527.2 742.2 1542.6 742.2C1550.0 742.2 1557.5 740.5 1564.9 739.7C1571.7 739.0 1578.5 738.7 1585.3 737.5C1589.0 736.8 1592.7 733.2 1596.4 733.2C1598.3 733.2 1600.1 734.1 1602.0 735.1C1603.9 736.1 1605.7 740.8 1607.6 742.5C1609.1 743.9 1610.7 745.7 1612.2 745.7C1613.7 745.7 1615.3 742.6 1616.8 737.9C1617.7 735.1 1618.7 723.0 1619.6 711.9C1620.5 700.8 1621.5 680.2 1622.4 665.5C1623.6 646.0 1624.9 628.4 1626.1 609.9C1627.3 591.4 1628.6 568.8 1629.8 554.2C1630.7 543.1 1631.7 533.4 1632.6 526.4C1633.5 519.4 1634.5 512.3 1635.4 509.7C1636.1 507.7 1636.9 505.6 1637.6 505.6C1638.6 505.6 1639.6 507.8 1640.6 510.6C1641.6 513.4 1642.7 525.7 1643.7 535.7C1645.0 547.9 1646.2 564.9 1647.5 582.0C1648.7 598.6 1650.0 620.8 1651.2 637.7C1652.4 654.6 1653.7 669.5 1654.9 684.1C1655.8 695.1 1656.8 708.7 1657.7 715.6C1658.6 722.3 1659.5 729.0 1660.4 730.5C1661.2 731.9 1662.1 732.9 1662.9 732.9C1664.2 732.9 1665.6 728.7 1666.9 726.8C1668.5 724.6 1670.0 720.6 1671.6 720.6C1675.0 720.6 1678.4 722.6 1681.8 723.0C1686.1 723.5 1690.5 723.4 1694.8 724.0C1696.5 724.2 1698.3 725.3 1700.0 726.1C1704.0 727.9 1707.9 731.5 1711.9 732.5C1715.8 733.5 1719.8 734.0 1723.7 734.4C1730.0 735.0 1736.4 735.6 1742.7 735.6C1745.5 735.6 1748.2 734.4 1751.0 734.4C1754.6 734.4 1758.1 737.9 1761.7 737.9C1764.1 737.9 1766.4 735.7 1768.8 733.2C1771.2 730.7 1773.5 722.2 1775.9 715.4C1778.3 708.6 1780.6 699.1 1783.0 691.7C1785.4 684.2 1787.8 677.8 1790.2 670.3C1792.6 662.9 1794.9 652.9 1797.3 646.6C1798.9 642.4 1800.4 637.2 1802.0 635.9C1803.6 634.6 1805.2 633.5 1806.8 633.5C1808.8 633.5 1810.7 635.6 1812.7 638.3C1814.7 641.0 1816.6 653.8 1818.6 663.2C1820.2 670.8 1821.8 682.5 1823.4 689.3C1825.0 696.0 1826.5 703.1 1828.1 705.9C1830.1 709.5 1832.1 713.0 1834.1 713.0C1836.1 713.0 1838.0 710.7 1840.0 708.3C1841.2 706.9 1842.3 701.1 1843.5 700.7C1846.3 699.7 1849.1 700.1 1851.9 699.3C1855.0 698.4 1858.2 690.7 1861.3 688.1C1864.5 685.5 1867.6 682.2 1870.8 682.2C1873.2 682.2 1875.6 684.5 1878.0 686.9C1880.4 689.2 1882.7 696.9 1885.1 701.2C1887.1 704.8 1889.0 711.1 1891.0 711.1C1893.0 711.1 1894.9 707.9 1896.9 703.5C1898.1 700.8 1899.3 689.8 1900.5 682.2C1901.7 674.8 1902.8 662.4 1904.0 658.4C1906.4 650.1 1908.8 648.5 1911.2 643.0C1913.6 637.5 1915.9 632.2 1918.3 625.2C1920.3 619.3 1922.2 607.8 1924.2 603.9C1926.2 599.9 1928.2 595.6 1930.2 595.6C1932.6 595.6 1934.9 599.9 1937.3 603.9C1939.7 607.9 1942.0 620.5 1944.4 625.2C1946.6 629.6 1948.8 635.2 1951.0 635.2C1953.1 635.2 1955.3 630.6 1957.4 625.2C1959.0 621.1 1960.6 605.8 1962.2 596.8C1963.4 590.2 1964.5 581.1 1965.7 577.8C1968.5 570.0 1971.2 570.9 1974.0 563.5C1975.6 559.2 1977.2 548.5 1978.8 539.8C1980.8 529.2 1982.7 517.3 1984.7 504.2C1986.3 493.5 1987.9 472.5 1989.5 468.6C1991.5 463.8 1993.4 460.3 1995.4 460.3C1997.8 460.3 2000.1 461.5 2002.5 461.5C2004.5 461.5 2006.4 457.0 2008.4 452.0C2010.0 447.9 2011.6 435.4 2013.2 425.9C2014.8 416.6 2016.3 402.4 2017.9 395.1C2019.7 386.9 2021.4 376.1 2023.2 376.1C2025.0 376.1 2026.8 382.9 2028.6 390.3C2030.2 396.9 2031.8 417.9 2033.4 433.0C2035.4 451.5 2037.3 474.8 2039.3 492.4C2041.3 510.0 2043.2 526.9 2045.2 539.8C2047.2 552.9 2049.2 562.8 2051.2 573.0C2053.6 585.0 2055.9 592.8 2058.3 606.3C2059.9 615.3 2061.4 629.4 2063.0 639.5C2064.6 649.8 2066.2 661.5 2067.8 667.9C2069.1 673.0 2070.3 679.7 2071.6 679.7C2073.5 679.7 2075.5 669.9 2077.4 668.0C2079.9 665.6 2082.3 666.0 2084.8 663.4C2086.4 661.8 2087.9 657.0 2089.5 651.3C2091.0 645.8 2092.6 632.7 2094.1 623.5C2095.7 614.1 2097.2 603.1 2098.8 595.7C2100.6 587.0 2102.5 576.9 2104.3 574.3C2105.9 572.1 2107.4 570.1 2109.0 570.1C2110.8 570.1 2112.7 572.5 2114.5 575.3C2116.4 578.2 2118.2 590.1 2120.1 599.4C2122.0 608.7 2123.8 622.9 2125.7 632.8C2127.2 641.0 2128.8 651.1 2130.3 655.0C2132.2 659.7 2134.0 660.8 2135.9 664.3C2138.1 668.3 2140.2 674.7 2142.4 678.2C2144.5 681.7 2146.7 682.7 2148.8 686.6C2150.4 689.4 2151.9 696.7 2153.5 699.6C2154.9 702.2 2156.2 705.5 2157.6 705.5C2159.3 705.5 2161.1 702.2 2162.8 697.7C2164.0 694.5 2165.3 679.0 2166.5 669.9C2168.0 658.6 2169.6 644.4 2171.1 636.5C2172.7 628.5 2174.2 621.2 2175.8 617.9C2177.5 614.2 2179.3 610.5 2181.0 610.5C2183.0 610.5 2184.9 613.9 2186.9 617.9C2188.7 621.6 2190.6 635.5 2192.4 645.8C2194.0 654.6 2195.5 666.8 2197.1 675.4C2198.6 683.8 2200.2 695.6 2201.7 697.7C2204.2 701.1 2206.6 700.9 2209.1 703.3C2211.1 705.3 2213.1 711.6 2215.1 711.6C2217.1 711.6 2219.2 707.2 2221.2 703.3C2223.4 699.1 2225.5 686.3 2227.7 681.0C2230.2 675.0 2232.6 667.1 2235.1 667.1C2237.3 667.1 2239.4 670.2 2241.6 673.6C2243.5 676.6 2245.3 686.8 2247.2 694.0C2249.0 701.0 2250.9 712.7 2252.7 716.3C2254.9 720.6 2257.0 724.6 2259.2 724.6C2261.7 724.6 2264.2 716.3 2266.7 716.3C2271.0 716.3 2275.3 716.6 2279.6 716.6C2285.8 716.6 2292.0 712.9 2298.2 711.6C2305.6 710.1 2313.1 709.8 2320.5 707.9C2324.8 706.8 2329.1 704.8 2333.4 702.3C2336.5 700.5 2339.6 695.5 2342.7 694.9C2345.2 694.4 2347.6 694.5 2350.1 694.0C2353.8 693.2 2357.6 688.6 2361.3 684.7C2364.4 681.4 2367.5 675.2 2370.6 671.7C2375.5 666.1 2380.5 663.6 2385.4 657.8C2387.9 654.9 2390.3 649.2 2392.8 646.7C2395.0 644.5 2397.1 641.7 2399.3 641.7C2401.2 641.7 2403.0 644.5 2404.9 646.7C2407.1 649.3 2409.2 655.6 2411.4 658.7C2413.6 661.8 2415.7 663.4 2417.9 666.2C2420.1 669.0 2422.2 673.5 2424.4 675.4C2426.6 677.3 2428.7 679.5 2430.9 679.5C2433.0 679.5 2435.2 677.6 2437.3 675.4C2439.2 673.4 2441.0 667.8 2442.9 660.6C2444.1 655.8 2445.4 645.0 2446.6 636.5C2447.5 630.0 2448.5 619.1 2449.4 616.0C2450.4 612.6 2451.5 611.7 2452.5 609.5"/>
<path class="c" stroke="#f0f" d="M241.0 333.2C249.3 332.7 257.7 331.8 266.0 331.7C304.0 331.5 342.0 331.7 380.0 331.4C385.3 331.4 390.5 327.5 395.8 327.5C400.1 327.5 404.5 327.6 408.8 327.8C413.1 328.0 417.5 329.4 421.8 329.4C430.5 329.4 439.1 328.6 447.8 328.0C458.2 327.3 468.6 325.5 479.0 325.5C482.5 325.5 485.9 326.5 489.4 326.5C504.1 326.5 518.8 326.3 533.5 326.0C537.8 325.9 542.2 325.5 546.5 325.5C550.0 325.5 553.4 326.2 556.9 326.2C567.3 326.2 577.6 324.7 588.0 324.7C619.2 324.7 650.4 325.0 681.6 325.0C694.6 325.0 707.5 324.1 720.5 323.9C740.3 323.6 760.2 323.5 780.0 323.2C793.0 323.0 806.0 322.8 819.0 322.2C824.2 321.9 829.3 320.7 834.5 319.6C840.6 318.3 846.6 313.6 852.7 313.6C857.0 313.6 861.4 314.4 865.7 314.4C871.8 314.4 877.8 305.0 883.9 305.0C889.9 305.0 896.0 305.0 902.0 305.0C904.6 305.0 907.3 302.5 909.9 300.6C913.8 297.8 917.7 290.2 921.6 287.7C923.9 286.2 926.3 284.3 928.6 284.3C931.0 284.3 933.4 286.2 935.8 287.7C940.1 290.4 944.5 297.4 948.8 300.6C953.1 303.8 957.5 306.9 961.8 308.4C967.0 310.3 972.2 311.1 977.4 312.3C983.5 313.7 989.5 316.0 995.6 316.0C1010.3 316.0 1025.0 316.0 1039.7 316.0C1052.7 316.0 1065.7 314.4 1078.7 314.4C1126.3 314.4 1174.0 314.4 1221.6 314.4C1229.4 314.4 1237.2 316.5 1245.0 316.5C1250.2 316.5 1255.3 315.9 1260.5 315.5C1271.8 314.6 1283.0 311.2 1294.3 310.8C1302.9 310.5 1311.4 310.3 1320.0 310.3C1323.1 310.3 1326.2 311.2 1329.3 311.2C1338.5 311.2 1347.8 309.4 1357.0 309.4C1365.7 309.4 1374.3 314.0 1383.0 314.0C1389.2 314.0 1395.4 309.7 1401.6 309.4C1407.2 309.2 1412.7 309.2 1418.3 309.0C1422.6 308.8 1427.0 306.6 1431.3 306.6C1437.5 306.6 1443.7 306.6 1449.9 306.6C1453.6 306.6 1457.3 308.4 1461.0 308.4C1466.6 308.4 1472.1 306.6 1477.7 306.6C1483.9 306.6 1490.1 308.4 1496.3 308.4C1511.7 308.4 1527.2 308.4 1542.6 308.4C1544.5 308.4 1546.3 307.5 1548.2 307.5C1560.6 307.5 1572.9 307.5 1585.3 307.5C1589.6 307.5 1594.0 304.7 1598.3 304.7C1600.2 304.7 1602.0 305.1 1603.9 305.6C1605.7 306.1 1607.6 309.4 1609.4 309.4C1611.3 309.4 1613.1 309.4 1615.0 309.4C1616.2 309.4 1617.5 307.2 1618.7 304.7C1620.6 301.0 1622.4 283.1 1624.3 271.3C1626.1 259.7 1628.0 246.5 1629.8 234.2C1631.4 223.7 1632.9 209.6 1634.5 202.7C1635.9 196.5 1637.3 188.8 1638.7 188.8C1640.4 188.8 1642.0 196.5 1643.7 202.7C1645.6 209.6 1647.4 222.8 1649.3 234.2C1651.2 245.6 1653.0 260.9 1654.9 271.3C1656.4 279.8 1658.0 291.1 1659.5 293.6C1661.1 296.2 1662.6 298.2 1664.2 298.2C1665.7 298.2 1667.3 297.8 1668.8 297.3C1670.0 296.9 1671.3 294.5 1672.5 294.5C1676.2 294.5 1679.9 296.9 1683.6 297.3C1689.1 297.9 1694.5 297.8 1700.0 298.4C1706.2 299.1 1712.4 304.5 1718.6 304.5C1723.5 304.5 1728.5 304.4 1733.4 304.2C1739.0 304.0 1744.5 301.2 1750.1 301.2C1754.4 301.2 1758.8 303.4 1763.1 303.4C1765.6 303.4 1768.0 302.4 1770.5 301.2C1773.0 300.0 1775.4 295.5 1777.9 291.9C1781.0 287.3 1784.1 280.4 1787.2 275.2C1790.3 270.0 1793.4 265.5 1796.5 260.4C1798.3 257.4 1800.2 253.2 1802.0 251.1C1803.7 249.1 1805.5 246.5 1807.2 246.5C1809.2 246.5 1811.2 248.2 1813.2 250.2C1815.0 252.0 1816.9 259.4 1818.7 264.1C1820.6 268.9 1822.4 274.9 1824.3 278.9C1826.2 282.9 1828.0 287.8 1829.9 289.1C1831.7 290.4 1833.6 291.5 1835.4 291.5C1837.9 291.5 1840.4 285.7 1842.9 284.5C1846.0 283.1 1849.0 282.9 1852.1 281.7C1855.2 280.4 1858.3 276.8 1861.4 276.1C1864.5 275.4 1867.6 274.8 1870.7 274.8C1873.2 274.8 1875.6 276.4 1878.1 278.0C1880.6 279.6 1883.0 285.4 1885.5 287.3C1887.4 288.8 1889.2 290.6 1891.1 290.6C1893.0 290.6 1894.8 288.6 1896.7 286.3C1898.9 283.6 1901.0 266.5 1903.2 262.2C1906.0 256.7 1908.7 254.7 1911.5 251.1C1914.0 247.9 1916.4 245.7 1918.9 241.8C1921.4 237.9 1923.8 228.8 1926.3 226.0C1928.0 224.0 1929.8 221.8 1931.5 221.8C1933.5 221.8 1935.5 224.0 1937.5 226.0C1940.0 228.5 1942.4 238.3 1944.9 240.9C1946.9 243.0 1948.8 245.2 1950.8 245.2C1952.9 245.2 1954.9 242.3 1957.0 239.0C1959.2 235.6 1961.3 218.7 1963.5 214.0C1965.3 210.0 1967.2 208.1 1969.0 205.6C1970.9 203.1 1972.7 202.1 1974.6 198.8C1975.8 196.6 1977.1 192.2 1978.3 188.0C1980.2 181.6 1982.0 172.3 1983.9 163.9C1985.7 155.6 1987.6 145.4 1989.4 137.9C1991.3 130.2 1993.1 122.9 1995.0 117.5C1997.5 110.3 1999.9 104.3 2002.4 99.9C2004.6 96.0 2006.7 92.0 2008.9 90.6C2011.2 89.1 2013.5 87.8 2015.8 87.8C2018.1 87.8 2020.5 90.2 2022.8 93.4C2024.7 95.9 2026.5 106.4 2028.4 115.7C2030.3 125.0 2032.1 141.7 2034.0 152.8C2035.8 163.7 2037.7 174.0 2039.5 182.4C2041.4 190.9 2043.2 198.6 2045.1 204.7C2047.6 212.8 2050.0 217.6 2052.5 225.1C2054.4 230.7 2056.2 237.2 2058.1 243.7C2059.9 250.1 2061.8 260.6 2063.6 264.1C2065.8 268.3 2067.9 272.4 2070.1 272.4C2072.3 272.4 2074.4 268.3 2076.6 265.9C2078.7 263.5 2080.9 261.4 2083.0 257.7C2084.9 254.5 2086.7 248.2 2088.6 242.9C2090.4 237.7 2092.3 231.0 2094.1 226.2C2096.0 221.3 2097.8 215.8 2099.7 213.2C2101.2 211.1 2102.8 208.5 2104.3 208.5C2106.2 208.5 2108.0 209.9 2109.9 211.3C2112.1 213.0 2114.2 218.1 2116.4 222.4C2118.2 226.1 2120.1 230.7 2121.9 235.4C2123.8 240.2 2125.6 248.4 2127.5 251.2C2129.4 254.0 2131.2 255.0 2133.1 256.8C2135.6 259.1 2138.0 261.0 2140.5 263.3C2143.0 265.6 2145.4 268.3 2147.9 270.7C2150.7 273.4 2153.5 278.5 2156.3 278.5C2158.5 278.5 2160.6 275.7 2162.8 272.5C2164.6 269.8 2166.5 259.4 2168.3 254.0C2170.2 248.5 2172.0 241.8 2173.9 239.1C2176.1 235.9 2178.2 232.7 2180.4 232.7C2182.6 232.7 2184.7 234.9 2186.9 237.3C2188.7 239.3 2190.6 245.3 2192.4 250.3C2194.3 255.4 2196.1 264.7 2198.0 268.8C2199.9 272.9 2201.7 276.3 2203.6 278.1C2205.4 279.9 2207.3 280.4 2209.1 281.8C2211.3 283.4 2213.4 287.4 2215.6 287.4C2217.5 287.4 2219.3 284.5 2221.2 281.8C2223.4 278.6 2225.5 267.7 2227.7 263.3C2230.2 258.3 2232.6 251.8 2235.1 251.8C2237.3 251.8 2239.4 253.7 2241.6 255.8C2243.5 257.6 2245.3 263.9 2247.2 268.8C2249.0 273.6 2250.9 282.0 2252.7 285.5C2254.9 289.6 2257.0 294.4 2259.2 294.4C2261.7 294.4 2264.2 289.6 2266.7 289.2C2272.3 288.3 2277.8 288.4 2283.4 287.8C2289.6 287.1 2295.7 285.7 2301.9 284.6C2311.2 282.9 2320.4 281.8 2329.7 279.0C2335.9 277.1 2342.1 272.8 2348.3 268.8C2353.2 265.7 2358.2 261.1 2363.1 257.7C2367.4 254.7 2371.8 253.1 2376.1 249.4C2379.8 246.2 2383.6 237.5 2387.3 235.4C2391.6 233.0 2395.9 230.8 2400.2 230.8C2402.1 230.8 2403.9 237.4 2405.8 241.0C2408.0 245.1 2410.1 254.0 2412.3 254.0C2414.5 254.0 2416.6 248.9 2418.8 246.6C2421.9 243.3 2425.0 241.3 2428.1 237.3C2431.2 233.3 2434.2 227.6 2437.3 220.6C2439.8 214.9 2442.3 207.1 2444.8 198.3C2446.3 192.9 2447.9 184.5 2449.4 179.0C2450.4 175.3 2451.5 172.3 2452.5 169.0"/>
</g>
<text x="296" y="260.6" font-size="92">3PMMA/7PEG/ZnO</text>
<text x="261" y="645.2" font-size="92">7PMMA/3PEG/ZnO</text>
<text x="272" y="1036.8" font-size="92">3PMMA/7PEG</text>
<text x="259" y="1487.7" font-size="84.7">7PMMA/3PEG</text>
<text y="1945" font-size="137.8"><tspan x="746">W</tspan><tspan x="874">avenumber (cm</tspan><tspan x="1829" font-size="83" dy="-68">-1</tspan><tspan x="1908" dy="68">)</tspan></text>
<text transform="translate(128.5,1396) rotate(-90)" font-size="137.8">Absorbance (a.u.)</text>
</svg></body></html>
